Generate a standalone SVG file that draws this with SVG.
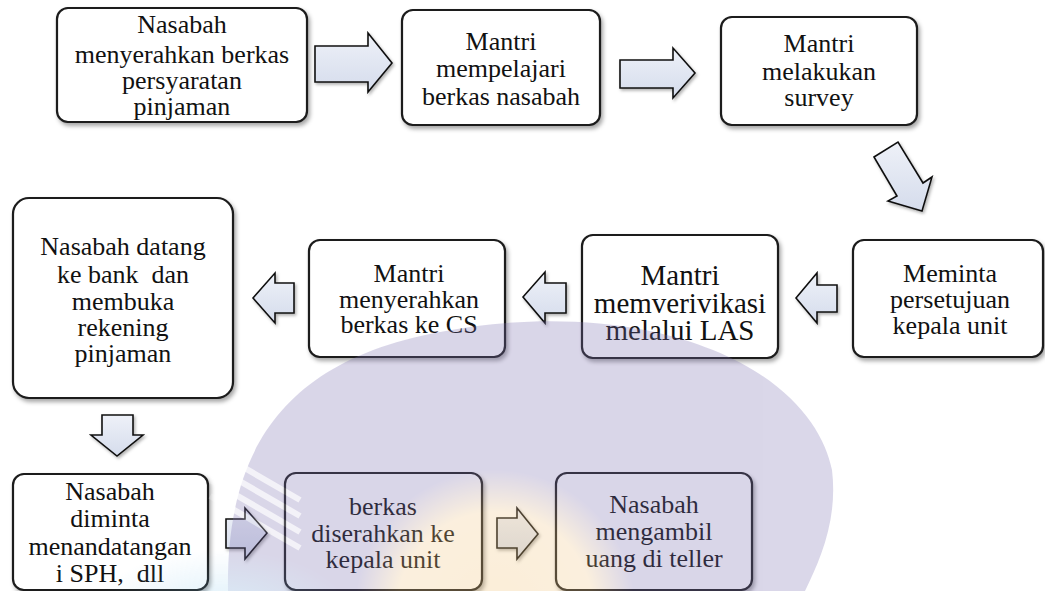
<svg xmlns="http://www.w3.org/2000/svg" width="1045" height="591" viewBox="0 0 1045 591">
<style>
.box{fill:#ffffff;stroke:#1a1a1a;stroke-width:2.2;filter:url(#sh)}
.arr{fill:url(#ag);stroke:#111;stroke-width:1.6;stroke-linejoin:miter;filter:url(#sh2)}
.t{font-size:26px;fill:#111;text-anchor:middle;white-space:pre}
.big{font-size:29px}
</style>
<defs>
<filter id="sh" x="-10%" y="-10%" width="125%" height="130%">
<feDropShadow dx="2" dy="3" stdDeviation="2" flood-color="#000" flood-opacity="0.35"/>
</filter>
<filter id="sh2" x="-20%" y="-20%" width="150%" height="150%">
<feDropShadow dx="1.5" dy="2" stdDeviation="1.5" flood-color="#000" flood-opacity="0.3"/>
</filter>
<linearGradient id="ag" x1="0" y1="0" x2="0" y2="1">
<stop offset="0" stop-color="#eef1f8"/>
<stop offset="1" stop-color="#d5dcec"/>
</linearGradient>
<radialGradient id="yg" cx="0.5" cy="0.5" r="0.5">
<stop offset="0" stop-color="#f2c474"/>
<stop offset="0.7" stop-color="#f2c98a"/>
<stop offset="1" stop-color="#f2c98a" stop-opacity="0"/>
</radialGradient>
<radialGradient id="bg" cx="0.5" cy="0.5" r="0.5">
<stop offset="0" stop-color="#7cc4ea"/>
<stop offset="1" stop-color="#7cc4ea" stop-opacity="0"/>
</radialGradient>
</defs>
<rect width="1045" height="591" fill="#ffffff"/>

<g id="connectors">
<path class="arr" d="M315,46 H368 V33 L392,63 L368,92 V82 H315 Z"/>
<path class="arr" d="M620,60 H673 V48 L695,73 L673,98 V88 H620 Z"/>
<path class="arr" d="M874,157 L898,142 L923,183 L932,177 L922,211 L888,201 L897,196 Z"/>
<path class="arr" d="M837,285 H817 V273 L796,298 L817,323 V312 H837 Z"/>
<path class="arr" d="M566,283 H545 V272 L523,297 L545,323 V313 H566 Z"/>
<path class="arr" d="M294,283 H275 V273 L253,298 L275,323 V313 H294 Z"/>
<path class="arr" d="M102,415 H133 V435 H143 L117,456 L91,435 H102 Z"/>
<path class="arr" d="M226,519 H245 V508 L267,533 L245,559 V548 H226 Z"/>
<path class="arr" d="M497,518 H517 V508 L538,534 L517,559 V548 H497 Z"/>
</g>

<g font-family="Liberation Serif, DejaVu Serif, serif">
<g id="n1">
<rect class="box" x="57" y="8" width="250" height="114" rx="11"/>
<text class="t" x="182" y="33">Nasabah</text>
<text class="t" x="182" y="63">menyerahkan berkas</text>
<text class="t" x="182" y="89">persyaratan</text>
<text class="t" x="182" y="115">pinjaman</text>
</g>
<g id="n2">
<rect class="box" x="402" y="10" width="198" height="115" rx="11"/>
<text class="t" x="501" y="50">Mantri</text>
<text class="t" x="501" y="77">mempelajari</text>
<text class="t" x="501" y="105">berkas nasabah</text>
</g>
<g id="n3">
<rect class="box" x="721" y="17" width="196" height="108" rx="11"/>
<text class="t" x="819" y="52">Mantri</text>
<text class="t" x="819" y="80">melakukan</text>
<text class="t" x="819" y="106">survey</text>
</g>
<g id="n4">
<rect class="box" x="853" y="240" width="190" height="117" rx="11"/>
<text class="t" x="950" y="282">Meminta</text>
<text class="t" x="950" y="308">persetujuan</text>
<text class="t" x="950" y="334">kepala unit</text>
</g>
<g id="n5">
<rect class="box" x="582" y="235" width="196" height="123" rx="11"/>
<text class="t big" x="680" y="285">Mantri</text>
<text class="t big" x="680" y="313">memverivikasi</text>
<text class="t big" x="680" y="340">melalui LAS</text>
</g>
<g id="n6">
<rect class="box" x="309" y="240" width="196" height="117" rx="11"/>
<text class="t" x="409" y="282">Mantri</text>
<text class="t" x="409" y="308">menyerahkan</text>
<text class="t" x="409" y="333">berkas ke CS</text>
</g>
<g id="n7">
<rect class="box" x="13" y="198" width="220" height="200" rx="16"/>
<text class="t" x="123" y="255">Nasabah datang</text>
<text class="t" x="123" y="283">ke bank  dan</text>
<text class="t" x="123" y="310">membuka</text>
<text class="t" x="123" y="336">rekening</text>
<text class="t" x="123" y="362">pinjaman</text>
</g>
<g id="n8">
<rect class="box" x="13" y="474" width="195" height="116" rx="11"/>
<text class="t" x="110" y="500">Nasabah</text>
<text class="t" x="110" y="527">diminta</text>
<text class="t" x="110" y="555">menandatangan</text>
<text class="t" x="110" y="582">i SPH,  dll</text>
</g>
<g id="n9">
<rect class="box" x="285" y="473" width="197" height="117" rx="11"/>
<text class="t" x="383" y="515">berkas</text>
<text class="t" x="383" y="542">diserahkan ke</text>
<text class="t" x="383" y="568">kepala unit</text>
</g>
<g id="n10">
<rect class="box" x="556" y="473" width="196" height="117" rx="11"/>
<text class="t" x="654" y="513">Nasabah</text>
<text class="t" x="654" y="540">mengambil</text>
<text class="t" x="654" y="567">uang di teller</text>
</g>
</g>

<g id="watermark" opacity="0.28">
<path d="M228,591 C226,460 275,362 440,332 C510,318 585,318 645,330 C772,356 822,420 832,470 C838,520 820,560 805,591 Z" fill="#7b6fb0"/>
<circle cx="495" cy="610" r="140" fill="url(#yg)"/>
<ellipse cx="220" cy="615" rx="130" ry="65" fill="url(#bg)"/>
<g stroke="#ffffff" stroke-width="6" opacity="0.7">
<line x1="210" y1="448" x2="300" y2="500"/>
<line x1="210" y1="464" x2="300" y2="516"/>
<line x1="210" y1="480" x2="300" y2="532"/>
<line x1="210" y1="496" x2="300" y2="548"/>
</g>
</g>
</svg>
